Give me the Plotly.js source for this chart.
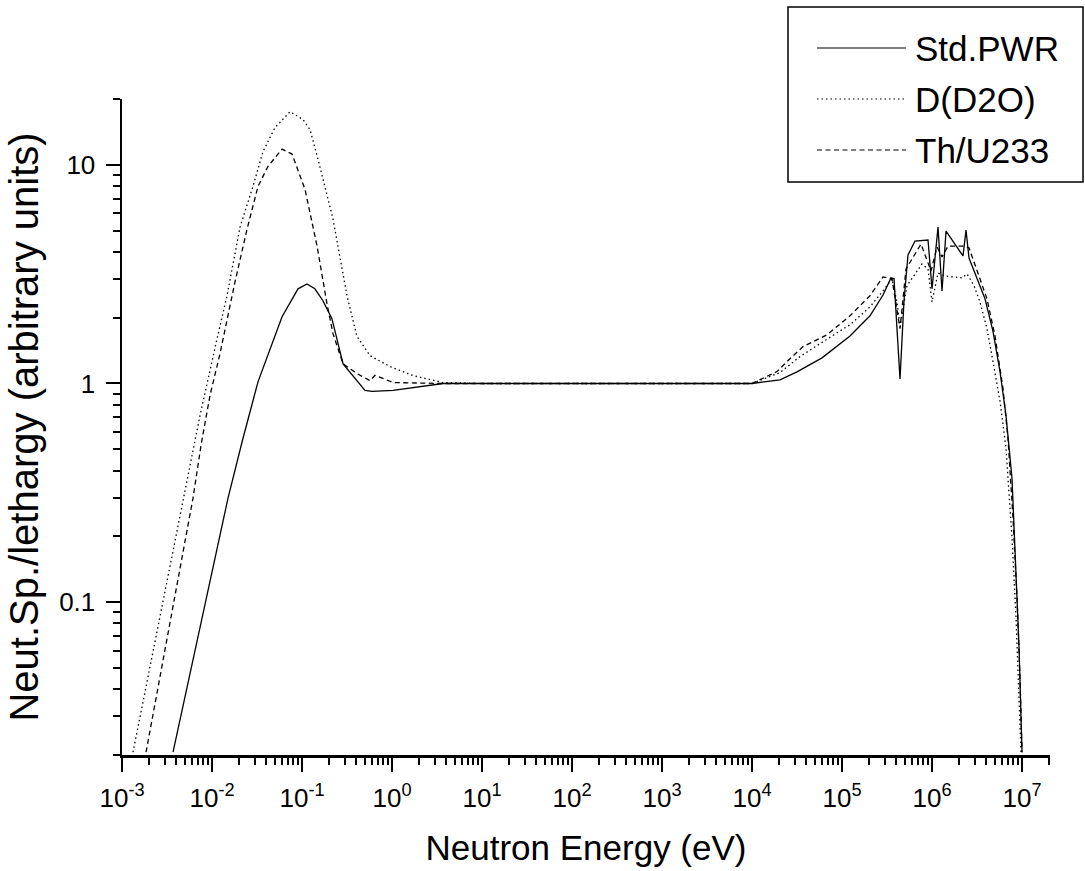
<!DOCTYPE html>
<html>
<head>
<meta charset="utf-8">
<script src="https://cdn.plot.ly/plotly-3.0.1.min.js"></script>
<style>html,body{margin:0;padding:0;background:#fff;}</style>
</head>
<body>
<div id="chart" style="width:1085px;height:871px;"></div>
<script>
// Std.PWR (solid)
var pwrE = [0.00369, 0.01506, 0.0221, 0.0325, 0.060, 0.0903, 0.1137, 0.139, 0.171, 0.215, 0.286, 0.501, 0.60, 1.03, 3.69, 10, 100, 1000, 1.0e4, 2.046e4, 3.162e4, 5.995e4, 1.227e5, 2.046e5, 2.855e5, 3.503e5, 3.783e5, 4.409e5, 4.884e5, 5.411e5, 6.472e5, 9.031e5, 1.0e6, 1.166e6, 1.292e6, 1.431e6, 2.21e6, 2.387e6, 2.577e6, 3.88e6, 4.76e6, 5.70e6, 6.64e6, 7.74e6, 8.58e6, 9.27e6, 1.0e7];
var pwrV = [0.0206, 0.299, 0.562, 1.02, 2.02, 2.71, 2.85, 2.71, 2.39, 1.98, 1.23, 0.93, 0.92, 0.93, 1.0, 1.0, 1.0, 1.0, 1.0, 1.04, 1.13, 1.31, 1.65, 2.04, 2.54, 3.04, 3.01, 1.05, 2.39, 3.87, 4.48, 4.53, 2.71, 5.19, 2.65, 4.98, 3.83, 5.03, 3.75, 2.44, 1.73, 1.13, 0.715, 0.369, 0.1436, 0.0621, 0.0206];

// D(D2O) (dotted)
var d2oE = [0.001325, 0.004764, 0.00736, 0.01137, 0.01468, 0.02048, 0.02857, 0.03687, 0.0501, 0.07356, 0.1026, 0.1227, 0.1507, 0.2210, 0.2643, 0.3162, 0.4084, 0.570, 0.950, 1.71, 3.69, 10, 100, 1000, 1e4, 2.046e4, 3.41e4, 6.15e4, 1.227e5, 2.046e5, 2.855e5, 3.59e5, 4.08e5, 4.41e5, 5.27e5, 7.74e5, 9.03e5, 1.0e6, 1.166e6, 1.393e6, 2.154e6, 2.449e6, 2.93e6, 3.41e6, 4.08e6, 4.76e6, 5.70e6, 6.64e6, 7.74e6, 8.58e6, 9.27e6, 9.75e6];
var d2oV = [0.0206, 0.299, 0.715, 1.60, 2.52, 5.19, 7.98, 11.5, 14.8, 17.5, 16.1, 14.5, 10.6, 5.65, 3.71, 2.52, 1.64, 1.34, 1.195, 1.087, 1.01, 1.0, 1.0, 1.0, 1.0, 1.122, 1.327, 1.553, 1.857, 2.243, 2.65, 3.01, 2.36, 1.82, 2.80, 3.52, 3.34, 2.36, 3.20, 3.10, 3.04, 3.17, 2.80, 2.36, 1.78, 1.26, 0.828, 0.506, 0.197, 0.085, 0.0367, 0.0206];

// Th/U233 (dashed)
var thuE = [0.00185, 0.00615, 0.00755, 0.0095, 0.01227, 0.01803, 0.0245, 0.0325, 0.0419, 0.060, 0.0774, 0.108, 0.147, 0.1896, 0.221, 0.286, 0.408, 0.570, 0.648, 1.03, 3.69, 10, 100, 1000, 1e4, 1.896e4, 2.448e4, 3.69e4, 6.81e4, 1.227e5, 2.046e5, 2.855e5, 3.59e5, 4.41e5, 5.14e5, 7.55e5, 9.75e5, 1.137e6, 1.292e6, 1.507e6, 2.21e6, 2.577e6, 3.08e6, 4.08e6, 5.01e6, 6.15e6, 6.98e6, 7.94e6, 8.80e6, 9.50e6, 1.0e7];
var thuV = [0.0206, 0.299, 0.522, 0.882, 1.37, 2.92, 5.08, 7.98, 9.84, 11.8, 11.2, 7.73, 4.25, 2.31, 1.69, 1.23, 1.11, 1.03, 1.09, 1.01, 1.0, 1, 1, 1, 1, 1.134, 1.26, 1.475, 1.67, 2.04, 2.52, 3.07, 3.01, 1.78, 3.34, 4.34, 3.27, 4.21, 3.79, 4.25, 4.25, 4.17, 3.41, 2.44, 1.65, 0.949, 0.562, 0.243, 0.1048, 0.0453, 0.0206];

var seriesNames = ['Std.PWR', 'D(D2O)', 'Th/U233'];
var seriesDash = ['solid', '1.5px,3px', '5px,3.5px'];

var xTickVals = [1e-3, 1e-2, 1e-1, 1e0, 1e1, 1e2, 1e3, 1e4, 1e5, 1e6, 1e7];
var xTickText = ['10<sup>-3</sup>', '10<sup>-2</sup>', '10<sup>-1</sup>', '10<sup>0</sup>', '10<sup>1</sup>', '10<sup>2</sup>', '10<sup>3</sup>', '10<sup>4</sup>', '10<sup>5</sup>', '10<sup>6</sup>', '10<sup>7</sup>'];
var yTickVals = [0.1, 1, 10];
var yTickText = ['0.1', '1', '10'];

var FONT = 'Liberation Sans, Arial, Helvetica, sans-serif';

// plot area in pixels (for placing the legend box in paper units)
var PL = 122, PR = 1050, PT = 99, PB = 755;
function px(x) { return (x - PL) / (PR - PL); }
function py(y) { return (PB - y) / (PB - PT); }

var traces = [
  {x: pwrE, y: pwrV, name: seriesNames[0], mode: 'lines', line: {color: '#000', width: 1.3, dash: seriesDash[0]}},
  {x: d2oE, y: d2oV, name: seriesNames[1], mode: 'lines', line: {color: '#000', width: 1.3, dash: seriesDash[1]}},
  {x: thuE, y: thuV, name: seriesNames[2], mode: 'lines', line: {color: '#000', width: 1.3, dash: seriesDash[2]}}
];

// hand-drawn legend (box, line samples, labels)
var shapes = [{
  type: 'rect', xref: 'paper', yref: 'paper',
  x0: px(788), x1: px(1083), y0: py(182), y1: py(7),
  line: {color: '#000', width: 1.5}, fillcolor: '#fff', layer: 'above'
}];
var annotations = [];
var rowY = [48, 99, 150];
for (var i = 0; i < seriesNames.length; i++) {
  shapes.push({
    type: 'line', xref: 'paper', yref: 'paper',
    x0: px(817), x1: px(906), y0: py(rowY[i]), y1: py(rowY[i]),
    line: {color: i === 0 ? '#555' : '#000', width: i === 0 ? 1.5 : 1.2, dash: seriesDash[i]}, layer: 'above'
  });
  annotations.push({
    xref: 'paper', yref: 'paper', x: px(913), y: py(rowY[i]),
    xanchor: 'left', yanchor: 'middle', showarrow: false,
    text: seriesNames[i], font: {family: FONT, size: 35, color: '#000'}
  });
}

var axisCommon = {
  type: 'log',
  showline: true, linecolor: '#000', linewidth: 2.5,
  ticks: 'outside', ticklen: 14, tickwidth: 2, tickcolor: '#000',
  showgrid: false, zeroline: false, mirror: false,
  tickfont: {family: FONT, size: 26, color: '#000'},
  minor: {ticks: 'outside', ticklen: 7, tickwidth: 2, tickcolor: '#000', dtick: 'D1', showgrid: false}
};

var layout = {
  width: 1085, height: 871,
  margin: {l: PL, r: 1085 - PR, t: PT, b: 871 - PB, autoexpand: false},
  paper_bgcolor: '#fff', plot_bgcolor: '#fff',
  font: {family: FONT, color: '#000'},
  showlegend: false,
  shapes: shapes,
  annotations: annotations,
  xaxis: Object.assign({}, axisCommon, {
    range: [-3, 7.311],
    tickmode: 'array', tickvals: xTickVals, ticktext: xTickText,
    ticklabelstandoff: 4,
    title: {text: 'Neutron Energy (eV)', font: {family: FONT, size: 35, color: '#000'}, standoff: 24}
  }),
  yaxis: Object.assign({}, axisCommon, {
    range: [Math.log10(0.02), Math.log10(20)],
    tickmode: 'array', tickvals: yTickVals, ticktext: yTickText,
    ticklabelstandoff: 5,
    title: {text: 'Neut.Sp./lethargy (arbitrary units)', font: {family: FONT, size: 40, color: '#000'}, standoff: 8}
  })
};

Plotly.newPlot('chart', traces, layout, {displayModeBar: false, staticPlot: true});
</script>
</body>
</html>
